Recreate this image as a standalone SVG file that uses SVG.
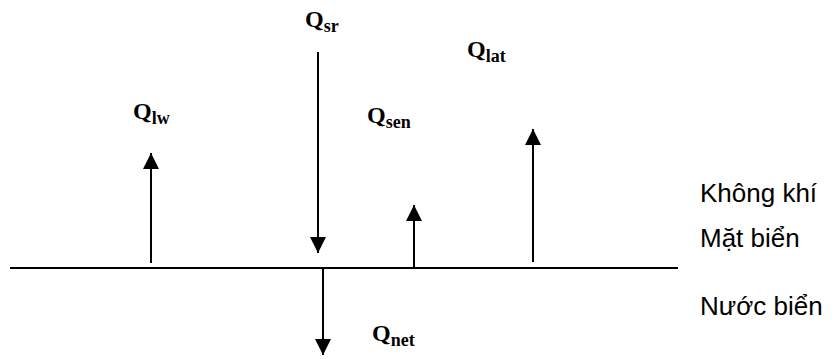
<svg xmlns="http://www.w3.org/2000/svg" width="838" height="359" viewBox="0 0 838 359">
<defs>
<style>
.q{font-family:"Liberation Serif","Times New Roman",serif;font-weight:bold;font-size:24px;fill:#000}
.s{font-size:18px}
.t{font-family:"Liberation Sans",Arial,sans-serif;font-size:26px;fill:#000}
.ln{stroke:#000;stroke-width:2;fill:none}
</style>
<marker id="ah" markerWidth="16" markerHeight="16" viewBox="0 0 16 16" refX="16" refY="8" orient="auto" markerUnits="userSpaceOnUse">
<path d="M0,0 L16,8 L0,16 Z" fill="#000"/>
</marker>
</defs>
<rect width="838" height="359" fill="#fff"/>
<g id="surface"><line class="ln" x1="10" y1="268" x2="678" y2="268"/></g>
<g id="connectors">
<line class="ln" x1="151" y1="263" x2="151" y2="153" marker-end="url(#ah)"/>
<line class="ln" x1="318" y1="52" x2="318" y2="253" marker-end="url(#ah)"/>
<line class="ln" x1="323" y1="269" x2="323" y2="355" marker-end="url(#ah)"/>
<line class="ln" x1="414" y1="268" x2="414" y2="205" marker-end="url(#ah)"/>
<line class="ln" x1="533" y1="262" x2="533" y2="129" marker-end="url(#ah)"/>
</g>
<g id="Qsr"><text class="q" x="305" y="27">Q<tspan class="s" dy="5">sr</tspan></text></g>
<g id="Qlat"><text class="q" x="467" y="57">Q<tspan class="s" dy="5">lat</tspan></text></g>
<g id="Qlw"><text class="q" x="133" y="119">Q<tspan class="s" dy="5">lw</tspan></text></g>
<g id="Qsen"><text class="q" x="367" y="123">Q<tspan class="s" dy="5">sen</tspan></text></g>
<g id="Qnet"><text class="q" x="372" y="341">Q<tspan class="s" dy="5">net</tspan></text></g>
<g id="labels">
<text class="t" x="700" y="202">Không khí</text>
<text class="t" x="700" y="247">Mặt biển</text>
<text class="t" x="700" y="315">Nước biển</text>
</g>
</svg>
